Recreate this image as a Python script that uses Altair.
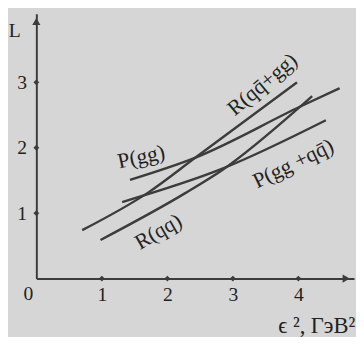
import altair as alt
import pandas as pd

# Curves (x = eps^2 in GeV^2, y = L)
series = ["R(qq̄+gg)", "R(qq)", "P(gg+qq̄)", "P(gg)"]
xs = [
    [0.70, 1.70, 2.43, 3.98],
    [0.98, 2.28, 2.84, 4.03, 4.21],
    [1.31, 2.84, 4.42],
    [1.43, 2.43, 4.03, 4.63],
]
ys = [
    [0.74, 1.31, 1.85, 3.00],
    [0.59, 1.31, 1.66, 2.63, 2.79],
    [1.17, 1.68, 2.42],
    [1.51, 1.85, 2.63, 2.91],
]

label_text = ["R(qq̄+gg)", "R(qq)", "P(gg +qq̄)", "P(gg)"]
label_x = [3.45, 1.86, 3.92, 1.60]
label_y = [2.97, 0.72, 1.76, 1.86]
label_angle = [320, 330, 334, 348]

x_ticks = [1, 2, 3, 4]
y_ticks = [1, 2, 3]

XMAX = 4.85
YMAX = 4.05
INK = "#3c3c3c"
FONT = "Liberation Serif"

rows = []
for s, xv, yv in zip(series, xs, ys):
    for i, (a, b) in enumerate(zip(xv, yv)):
        rows.append({"series": s, "x": a, "y": b, "o": i})
df = pd.DataFrame(rows)

xsc = alt.Scale(domain=[0, XMAX], nice=False, zero=False)
ysc = alt.Scale(domain=[0, YMAX], nice=False, zero=False)

xax = alt.Axis(values=x_ticks, format="d", grid=False, title=None, ticks=False,
               domainColor=INK, domainWidth=2, labelFont=FONT, labelFontSize=20,
               labelColor="#222", labelPadding=6)
yax = alt.Axis(values=y_ticks, format="d", grid=False, title=None, ticks=False,
               domainColor=INK, domainWidth=2, labelFont=FONT, labelFontSize=20,
               labelColor="#222", labelPadding=10)

lines = alt.Chart(df).mark_line(color=INK, strokeWidth=2.4, interpolate="monotone").encode(
    x=alt.X("x:Q", scale=xsc, axis=xax),
    y=alt.Y("y:Q", scale=ysc, axis=yax),
    detail="series:N",
    order="o:Q",
)

tdf = pd.DataFrame({"t": label_text, "x": label_x, "y": label_y, "a": label_angle})
labels = []
for _, r in tdf.iterrows():
    labels.append(
        alt.Chart(pd.DataFrame([r])).mark_text(
            font=FONT, fontSize=22, color="#222", angle=int(r["a"])
        ).encode(x=alt.X("x:Q", scale=xsc), y=alt.Y("y:Q", scale=ysc), text="t:N")
    )

tick_df = pd.DataFrame(
    {"x": x_ticks + [0] * len(y_ticks), "y": [0] * len(x_ticks) + y_ticks}
)
tick_marks = alt.Chart(tick_df).mark_point(
    shape="diamond", filled=True, size=36, color=INK, opacity=1
).encode(x=alt.X("x:Q", scale=xsc), y=alt.Y("y:Q", scale=ysc))

arrow_x = alt.Chart(pd.DataFrame({"x": [XMAX - 0.12], "y": [0]})).mark_point(
    shape="triangle-right", filled=True, size=70, color=INK, opacity=1
).encode(x=alt.X("x:Q", scale=xsc), y=alt.Y("y:Q", scale=ysc))
arrow_y = alt.Chart(pd.DataFrame({"x": [0], "y": [YMAX - 0.12]})).mark_point(
    shape="triangle-up", filled=True, size=70, color=INK, opacity=1
).encode(x=alt.X("x:Q", scale=xsc), y=alt.Y("y:Q", scale=ysc))

extra_text = pd.DataFrame({
    "t": ["L", "0"],
    "x": [-0.33, -0.12],
    "y": [3.78, -0.24],
})
extras = alt.Chart(extra_text).mark_text(font=FONT, fontSize=20, color="#222").encode(
    x=alt.X("x:Q", scale=xsc), y=alt.Y("y:Q", scale=ysc), text="t:N"
)
xtitle = alt.Chart(pd.DataFrame({"t": ["ϵ ², ГэВ²"], "x": [4.28], "y": [-0.73]})).mark_text(
    font=FONT, fontSize=23, color="#222"
).encode(x=alt.X("x:Q", scale=xsc), y=alt.Y("y:Q", scale=ysc), text="t:N")

chart = alt.layer(lines, tick_marks, arrow_x, arrow_y, extras, xtitle, *labels).properties(
    width=325, height=271,
    autosize=alt.AutoSizeParams(type="none"),
    padding={"left": 29, "top": 2, "right": 2, "bottom": 56},
    background="#d6d6d6",
).configure_view(stroke=None)

chart.save("out.html", embed_options={"renderer": "svg", "actions": False})
